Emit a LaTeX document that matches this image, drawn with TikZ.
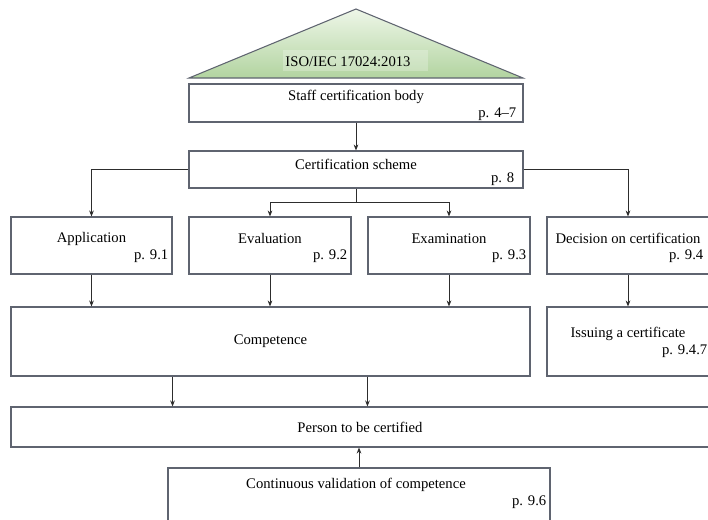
\documentclass[tikz,border=0pt]{standalone}
\usepackage{fontspec}
\setmainfont{Liberation Serif}
\usetikzlibrary{arrows.meta,positioning,calc}

\definecolor{boxline}{RGB}{95,100,112}
\definecolor{arrline}{RGB}{45,45,45}
\definecolor{isotop}{RGB}{238,246,232}
\definecolor{isobot}{RGB}{178,212,160}

\tikzset{
  box/.style={draw=boxline, fill=white, line width=0.8pt, inner sep=0pt, font=\fontsize{11}{13}\selectfont},
  wh/.style 2 args={minimum width=#1*0.75pt, minimum height=#2*0.75pt},
  lbl/.style={inner sep=0pt, font=\fontsize{11}{13}\selectfont},
  pg/.style={lbl, anchor=east},
  con/.style={draw=arrline, line width=0.7pt},
  arr/.style={con, -{Stealth[length=4.5pt,width=3.5pt]}}
}

\begin{document}
\begin{tikzpicture}[x=0.75pt, y=-0.75pt]
  \useasboundingbox (0,0) rectangle (708,519);
  \clip (0,0) rectangle (708,519);

  % the standard on top
  \shadedraw[top color=isotop, bottom color=isobot, draw=boxline, line width=0.8pt]
    (356,9) -- (523,78) -- (189,78) -- cycle;
  \fill[white, opacity=0.25] (283,50) rectangle (428,71);
  \node[lbl] (iso) at (348,62) {ISO/IEC 17024:2013};

  % boxes
  \node[box, wh={334}{38}] (staff) at (356,103) {};
  \node[box, wh={334}{37}] (scheme) at (356,169.5) {};
  \node[box, wh={161}{57}] (appl) at (91.5,245.5) {};
  \node[box, wh={162}{57}] (eval) at (270,245.5) {};
  \node[box, wh={162}{57}] (exam) at (449,245.5) {};
  \node[box, wh={162}{57}] (dec) at (628,245.5) {};
  \node[box, wh={519}{69}] (comp) at (270.5,341.5) {Competence};
  \node[box, wh={162}{69}] (issue) at (628,341.5) {};
  \node[box, wh={698}{40}] (person) at (360,427) {Person to be certified};
  \node[box, wh={382}{53}] (contin) at (359,494.5) {};

  % texts in the boxes
  \node[lbl] (staff-t) at ($(staff.north)+(0,13)$) {Staff certification body};
  \node[pg] (staff-p) at ($(staff.north east)+(-7,31)$) {p. 4–7};
  \node[lbl] (scheme-t) at ($(scheme.north)+(0,14)$) {Certification scheme};
  \node[pg] (scheme-p) at ($(scheme.north east)+(-9,29)$) {p. 8};
  \node[lbl] (appl-t) at ($(appl.north)+(0,22)$) {Application};
  \node[pg] (appl-p) at ($(appl.north east)+(-4,40)$) {p. 9.1};
  \node[lbl] (eval-t) at ($(eval.north)+(0,22)$) {Evaluation};
  \node[pg] (eval-p) at ($(eval.north east)+(-4,40)$) {p. 9.2};
  \node[lbl] (exam-t) at ($(exam.north)+(0,22)$) {Examination};
  \node[pg] (exam-p) at ($(exam.north east)+(-4,40)$) {p. 9.3};
  \node[lbl] (dec-t) at ($(dec.north)+(0,22)$) {Decision on certification};
  \node[pg] (dec-p) at ($(dec.north east)+(-6,40)$) {p. 9.4};
  \node[lbl] (issue-t) at ($(issue.north)+(0,27)$) {Issuing a certificate};
  \node[pg] (issue-p) at ($(issue.north east)+(-2,45)$) {p. 9.4.7};
  \node[lbl] (contin-t) at ($(contin.north)+(-3,17)$) {Continuous validation of competence};
  \node[pg] (contin-p) at ($(contin.north east)+(-4,35)$) {p. 9.6};

  % connectors
  \coordinate (split) at (356,202);
  \draw[arr] (staff.south) -- (scheme.north);
  \draw[arr] (scheme.west) -| (appl.north);
  \draw[arr] (scheme.east) -| (dec.north);
  \draw[con] (scheme.south) -- (split);
  \draw[arr] (split) -| (eval.north);
  \draw[arr] (split) -| (exam.north);

  \draw[arr] (appl.south) -- (appl.south |- comp.north);
  \draw[arr] (eval.south) -- (eval.south |- comp.north);
  \draw[arr] (exam.south) -- (exam.south |- comp.north);
  \draw[arr] (dec.south) -- (issue.north);

  \draw[arr] (comp.south -| appl.east) -- (person.north -| appl.east);
  \draw[arr] (comp.south -| exam.west) -- (person.north -| exam.west);
  \draw[arr] (contin.north) -- (contin.north |- person.south);
\end{tikzpicture}
\end{document}
